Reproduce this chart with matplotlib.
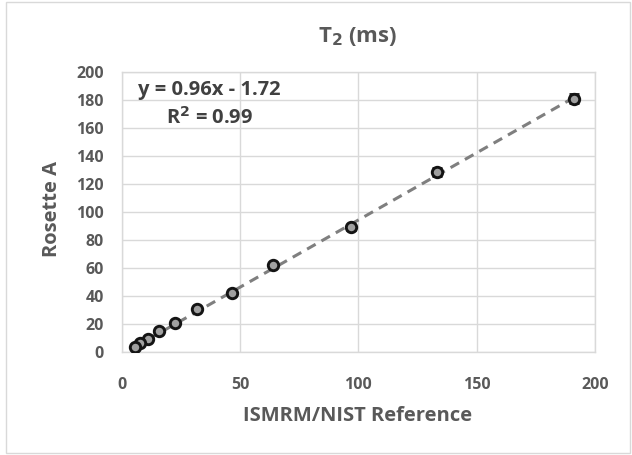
import matplotlib
matplotlib.use("Agg")
import matplotlib.pyplot as plt
from matplotlib.patches import Rectangle
import numpy as np

# ISMRM/NIST phantom T2 reference values (ms) and Rosette A measurements
reference = [190.94, 133.27, 96.89, 64.07, 46.42, 31.97, 22.56, 15.81, 11.24, 7.91, 5.59]
rosette_a = [181.0, 128.5, 89.0, 62.0, 41.8, 31.0, 20.5, 14.8, 9.0, 6.2, 3.6]
rosette_sd = [3.5, 3.0, 2.0, 1.5, 1.2, 1.0, 1.0, 0.8, 0.8, 0.8, 0.8]

fit_slope = 0.96
fit_intercept = -1.72
fit_r2 = 0.99

x_ticks = [0, 50, 100, 150, 200]
y_ticks = [0, 20, 40, 60, 80, 100, 120, 140, 160, 180, 200]

TEXT = "#595959"
GRID = "#d9d9d9"
FONT = ["Open Sans", "DejaVu Sans"]

fig = plt.figure(figsize=(6.32, 4.55), dpi=100)
fig.patch.set_facecolor("white")
fig.patches.append(Rectangle((6 / 632, 2 / 455), 624 / 632, 451 / 455,
                             transform=fig.transFigure, fill=False,
                             edgecolor=GRID, linewidth=1.0))

ax = fig.add_axes([121.7 / 632, 1 - 352 / 455, (595 - 121.7) / 632, (352 - 72) / 455])

ax.set_xlim(0, 200)
ax.set_ylim(0, 200)
ax.set_xticks(x_ticks)
ax.set_yticks(y_ticks)
ax.grid(True, color=GRID, linewidth=1.0)
ax.set_axisbelow(True)
for side in ["left", "right", "top", "bottom"]:
    ax.spines[side].set_color(GRID)
    ax.spines[side].set_linewidth(1.0)
ax.tick_params(axis="x", length=0, pad=18, labelcolor=TEXT, labelsize=11.5)
ax.tick_params(axis="y", length=0, pad=13, labelcolor=TEXT, labelsize=11.5)
for lab in ax.get_xticklabels() + ax.get_yticklabels():
    lab.set_family(FONT)
    lab.set_fontweight("bold")

# linear trend line across the data range
xs = np.array([min(reference), max(reference)])
ax.plot(xs, fit_slope * xs + fit_intercept, linestyle=(0, (3.2, 2.2)),
        color="#7f7f7f", linewidth=2.2, zorder=2)

ax.errorbar(reference, rosette_a, yerr=rosette_sd, fmt="o", markersize=7.5,
            markerfacecolor="#a0a0a0", markeredgecolor="#141414",
            markeredgewidth=2.1, ecolor="#262626", elinewidth=1.0,
            capsize=3.5, capthick=1.0, zorder=3)

ax.text(37, 187.5, f"y = {fit_slope:.2f}x - {abs(fit_intercept):.2f}", ha="center",
        va="center", fontsize=14.5, color="#404040", family=FONT,
        fontweight="bold")
ax.text(37, 167, f"R$^\\mathbf{{2}}$ = {fit_r2:.2f}", ha="center", va="center",
        fontsize=14.5, color="#404040", family=FONT, fontweight="bold")

fig.text(358 / 632, 1 - 36 / 455, "T$_\\mathbf{2}$ (ms)", ha="center", va="center",
         fontsize=16, color=TEXT, family=FONT, fontweight="bold")
fig.text(358 / 632, 1 - 416 / 455, "ISMRM/NIST Reference", ha="center",
         va="center", fontsize=14.5, color=TEXT, family=FONT, fontweight="bold")
fig.text(52 / 632, 1 - 209 / 455, "Rosette A", ha="center", va="center",
         rotation=90, fontsize=14.5, color=TEXT, family=FONT, fontweight="bold")

fig.savefig("out.png", dpi=100, facecolor="white")
